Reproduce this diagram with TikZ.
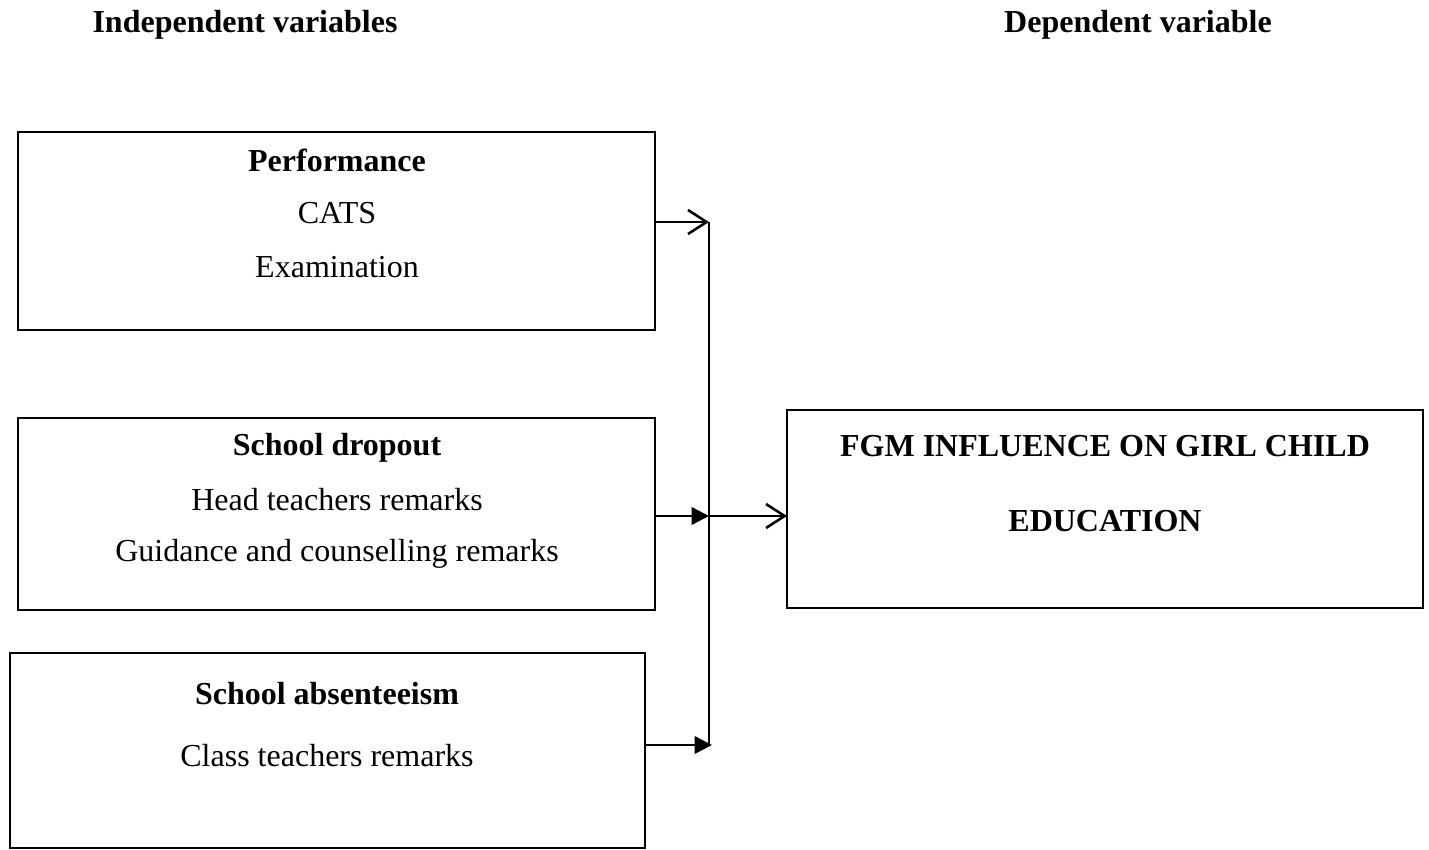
\documentclass[tikz,border=0pt]{standalone}
\usepackage{fontspec}
\setmainfont{Liberation Serif}
\usetikzlibrary{arrows.meta}
\begin{document}
\begin{tikzpicture}[x=0.75pt,y=-0.75pt,
  box/.style={draw,line width=1.9pt},
  txt/.style={font=\fontsize{24}{28}\selectfont,inner sep=0pt,anchor=center},
  btxt/.style={font=\fontsize{24}{28}\selectfont\bfseries,inner sep=0pt,anchor=center},
  conn/.style={line width=1.9pt},
  openarr/.style={conn,-{Straight Barb[length=14pt,width=18pt,line width=1.9pt]}},
  fillarr/.style={conn,-{Triangle[length=13pt,width=13pt]}}]
\useasboundingbox (0,0) rectangle (1429,850);
% headers
\node[btxt] (hind) at (245,25) {Independent variables};
\node[btxt] (hdep) at (1138,25) {Dependent variable};
% boxes
\draw[box] (18,132) rectangle (655,330);
\coordinate (b1r) at (655,222);
\draw[box] (18,418) rectangle (655,610);
\coordinate (b2r) at (655,516);
\draw[box] (10,653) rectangle (645,848);
\coordinate (b3r) at (645,745);
\draw[box] (787,410) rectangle (1423,608);
\coordinate (b4l) at (787,516);
% texts
\node[btxt] (t1a) at (337,160) {Performance};
\node[txt] (t1b) at (337,213) {CATS};
\node[txt] (t1c) at (337,267) {Examination};
\node[btxt] (t2a) at (337,448) {School dropout};
\node[txt] (t2b) at (337,500) {Head teachers remarks};
\node[txt] (t2c) at (337,554) {Guidance and counselling remarks};
\node[btxt] (t3a) at (327,694) {School absenteeism};
\node[txt] (t3b) at (327,756) {Class teachers remarks};
\node[btxt] (t4a) at (1105,446) {FGM INFLUENCE ON GIRL CHILD};
\node[btxt] (t4b) at (1105,521) {EDUCATION};
% connectors
\coordinate (vtop) at (709,222);
\coordinate (vmid) at (709,516);
\coordinate (vbot) at (709,745);
\coordinate (vbotend) at (712,745);
\draw[conn] (vtop) -- (vbot);
\draw[openarr] (b1r) -- (vtop);
\draw[fillarr] (b2r) -- (vmid);
\draw[openarr] (vmid) -- (b4l);
\draw[fillarr] (b3r) -- (vbotend);
\end{tikzpicture}
\end{document}
